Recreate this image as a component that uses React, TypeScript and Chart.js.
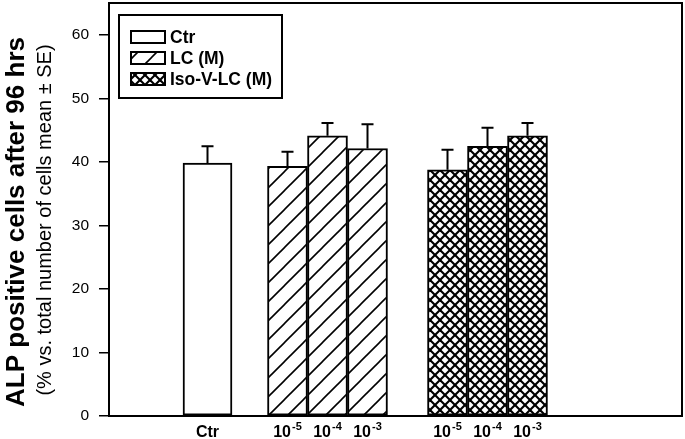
import React, { useEffect, useRef } from "react";
import { Chart, registerables } from "chart.js";

Chart.register(...registerables);

// ---- data ----
const seriesNames = ["Ctr", "LC (M)", "Iso-V-LC (M)"];
// category slot of each bar along the x axis (slot index, not pixels)
const ctrSlots = [2];
const lcSlots = [4, 5, 6];
const isoSlots = [8, 9, 10];
const ctrMean = [39.8];
const ctrSE = [2.65];
const lcMean = [39.3, 44.1, 42.1];
const lcSE = [2.3, 2.0, 3.8];
const isoMean = [38.75, 42.45, 44.1];
const isoSE = [3.15, 2.9, 2.0];
const ctrTickLabels = ["Ctr"];
const doseBase = "10";
const doseExponents = ["-5", "-4", "-3"];
const yMin = 0;
const yMax = 65;
const yStep = 10;
const yTitle = "ALP positive cells after 96 hrs";
const ySubTitle = "(% vs. total number of cells mean \u00B1 SE)";

const FONT = '"Liberation Sans", Arial, Helvetica, sans-serif';

function makeHatch(ctx: CanvasRenderingContext2D, size: number, lw: number, cross: boolean) {
  const c = document.createElement("canvas");
  c.width = size;
  c.height = size;
  const g = c.getContext("2d")!;
  g.fillStyle = "#fff";
  g.fillRect(0, 0, size, size);
  g.strokeStyle = "#000";
  g.lineWidth = lw;
  const line = (x1: number, y1: number, x2: number, y2: number) => {
    g.beginPath();
    g.moveTo(x1, y1);
    g.lineTo(x2, y2);
    g.stroke();
  };
  line(-2, size + 2, size + 2, -2);
  line(-2, 2, 2, -2);
  line(size - 2, size + 2, size + 2, size - 2);
  if (cross) {
    line(-2, -2, size + 2, size + 2);
    line(size - 2, -2, size + 2, 2);
    line(-2, size - 2, 2, size + 2);
  }
  return ctx.createPattern(c, "repeat")!;
}

export default function App() {
  const ref = useRef<HTMLCanvasElement | null>(null);

  useEffect(() => {
    const canvas = ref.current!;
    const ctx = canvas.getContext("2d")!;
    const hatch = makeHatch(ctx, 19, 1.6, false);
    const cross = makeHatch(ctx, 10, 2.1, true);
    const fills = ["#ffffff", hatch, cross];

    const errorBars = {
      id: "errorBars",
      afterDatasetsDraw(chart: any) {
        const c = chart.ctx;
        const ys = chart.scales.y;
        c.save();
        c.strokeStyle = "#000";
        c.lineWidth = 2;
        chart.data.datasets.forEach((ds: any, d: number) => {
          const meta = chart.getDatasetMeta(d);
          meta.data.forEach((el: any, i: number) => {
            const v = ds.data[i].y + ds.errors[i];
            const yt = ys.getPixelForValue(v);
            c.beginPath();
            c.moveTo(el.x, el.y);
            c.lineTo(el.x, yt);
            c.moveTo(el.x - 6, yt);
            c.lineTo(el.x + 6, yt);
            c.stroke();
          });
        });
        c.restore();
      },
    };

    const frameAndText = {
      id: "frameAndText",
      afterDraw(chart: any) {
        const c = chart.ctx;
        const a = chart.chartArea;
        c.save();
        // frame
        c.strokeStyle = "#000";
        c.lineWidth = 2;
        c.strokeRect(a.left, a.top, a.right - a.left, a.bottom - a.top);

        // x labels
        c.fillStyle = "#000";
        c.textBaseline = "alphabetic";
        chart.data.datasets.forEach((ds: any, d: number) => {
          const meta = chart.getDatasetMeta(d);
          meta.data.forEach((el: any, i: number) => {
            const x = meta.iScale.getPixelForValue(ds.data[i].x);
            if (d === 0) {
              c.font = `bold 16px ${FONT}`;
              c.textAlign = "center";
              c.fillText(ctrTickLabels[i], x, 437);
            } else {
              c.font = `bold 16px ${FONT}`;
              const wb = c.measureText(doseBase).width;
              c.font = `bold 11px ${FONT}`;
              const ws = c.measureText(doseExponents[i]).width;
              const start = x - (wb + ws + 1) / 2;
              c.textAlign = "left";
              c.font = `bold 16px ${FONT}`;
              c.fillText(doseBase, start, 437);
              c.font = `bold 11px ${FONT}`;
              c.fillText(doseExponents[i], start + wb + 1, 430);
            }
          });
        });

        // y titles
        c.textAlign = "center";
        c.textBaseline = "middle";
        c.save();
        c.translate(17, 222);
        c.rotate(-Math.PI / 2);
        c.font = `bold 26px ${FONT}`;
        c.fillText(yTitle, 0, 0);
        c.restore();
        c.save();
        c.translate(45, 220);
        c.rotate(-Math.PI / 2);
        c.font = `20px ${FONT}`;
        c.fillText(ySubTitle, 0, 0);
        c.restore();

        // legend
        const lx = 119, ly = 15, lw = 163, lh = 83;
        c.fillStyle = "#fff";
        c.fillRect(lx, ly, lw, lh);
        c.lineWidth = 2;
        c.strokeStyle = "#000";
        c.strokeRect(lx, ly, lw, lh);
        const rows = [37, 58, 79];
        seriesNames.forEach((name, k) => {
          const cy = rows[k];
          c.fillStyle = fills[k] as any;
          c.fillRect(131, cy - 6, 34, 12);
          c.lineWidth = 2;
          c.strokeStyle = "#000";
          c.strokeRect(131, cy - 6, 34, 12);
          c.fillStyle = "#000";
          c.font = `bold 17.5px ${FONT}`;
          c.textAlign = "left";
          c.textBaseline = "middle";
          c.fillText(name, 170, cy + 1);
        });
        c.restore();
      },
    };

    const mk = (slots: number[], means: number[]) =>
      slots.map((s, i) => ({ x: s, y: means[i] }));

    const xRange = { min: -0.4625, max: 13.8625 };

    const chart = new Chart(canvas, {
      type: "bar",
      data: {
        datasets: [
          {
            label: seriesNames[0],
            data: mk(ctrSlots, ctrMean),
            errors: ctrSE,
            xAxisID: "x2",
            backgroundColor: fills[0],
            borderColor: "#000",
            borderWidth: 2,
            maxBarThickness: 49,
          } as any,
          {
            label: seriesNames[1],
            data: mk(lcSlots, lcMean),
            errors: lcSE,
            xAxisID: "x",
            backgroundColor: fills[1],
            borderColor: "#000",
            borderWidth: 2,
          } as any,
          {
            label: seriesNames[2],
            data: mk(isoSlots, isoMean),
            errors: isoSE,
            xAxisID: "x",
            backgroundColor: fills[2],
            borderColor: "#000",
            borderWidth: 2,
          } as any,
        ],
      },
      options: {
        responsive: false,
        animation: false,
        events: [],
        layout: { padding: { top: 3, right: 3, bottom: 23, left: 0 } },
        plugins: { legend: { display: false }, tooltip: { enabled: false } },
        datasets: {
          bar: { grouped: false, borderSkipped: false, barPercentage: 1, categoryPercentage: 1 },
        } as any,
        scales: {
          x: {
            type: "linear",
            ...xRange,
            offset: false,
            display: false,
            ticks: { stepSize: 1, includeBounds: false } as any,
          },
          x2: {
            type: "linear",
            ...xRange,
            offset: false,
            display: false,
            ticks: { stepSize: 5, includeBounds: false } as any,
          },
          y: {
            min: yMin,
            max: yMax,
            ticks: {
              stepSize: yStep,
              includeBounds: false,
              color: "#000",
              padding: 10,
              font: { family: FONT, size: 15.5 },
            } as any,
            grid: {
              display: true,
              drawOnChartArea: false,
              drawTicks: true,
              tickLength: 10,
              color: "#000",
              lineWidth: 1.5,
            },
            border: { display: true, color: "#000", width: 2 },
            afterFit(scale: any) {
              scale.width = 109;
              scale.paddingTop = 0;
              scale.paddingBottom = 0;
            },
          },
        },
      },
      plugins: [errorBars, frameAndText],
    });
    return () => chart.destroy();
  }, []);

  return (
    <div style={{ position: "absolute", left: 0, top: 0, width: 685, height: 439, background: "#fff" }}>
      <canvas ref={ref} width={685} height={439} style={{ display: "block" }} />
    </div>
  );
}
